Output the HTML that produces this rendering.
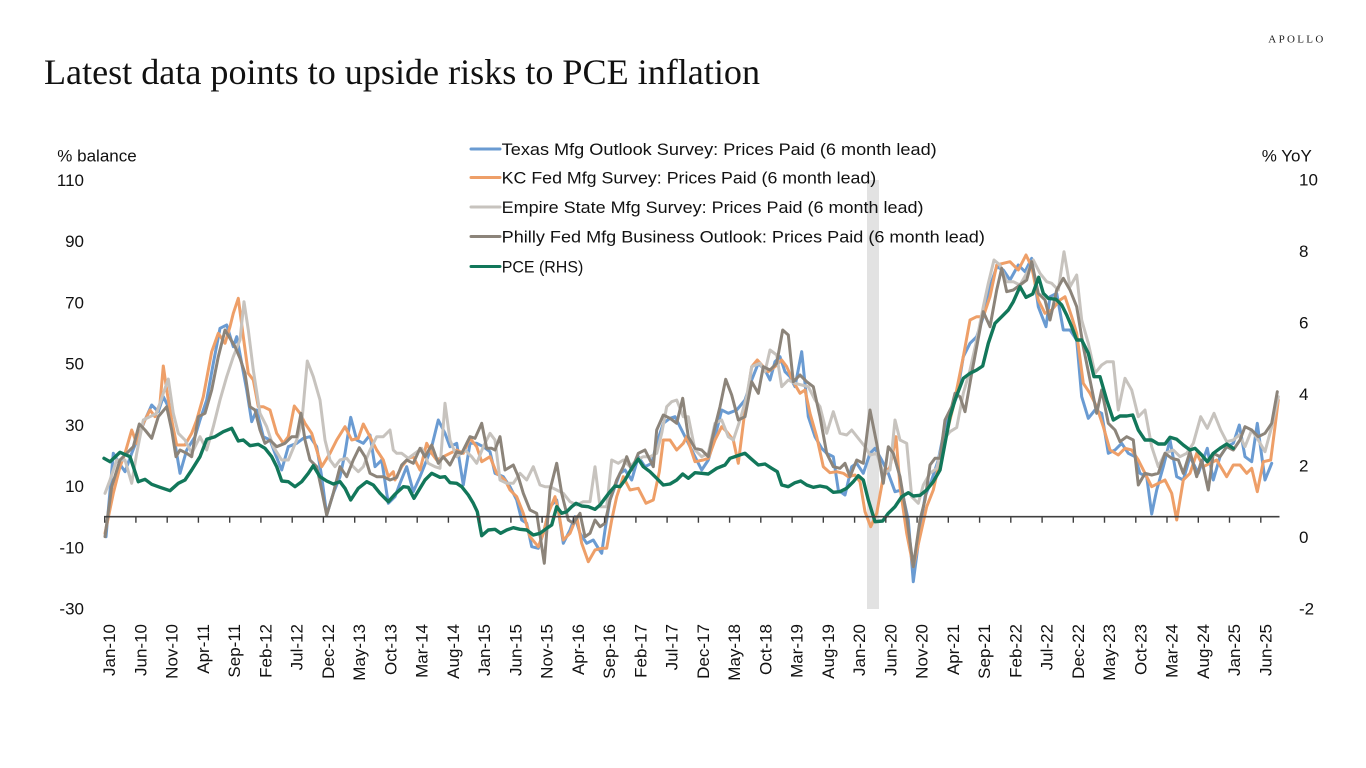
<!DOCTYPE html>
<html>
<head>
<meta charset="utf-8">
<style>
html,body{margin:0;padding:0;background:#fff;}
body{width:1366px;height:768px;overflow:hidden;}
svg{display:block;}
.ax{font-family:"Liberation Sans",sans-serif;font-size:17px;fill:#111;}
</style>
</head>
<body>
<svg width="1366" height="768" viewBox="0 0 1366 768" xmlns="http://www.w3.org/2000/svg">
<rect x="0" y="0" width="1366" height="768" fill="#fff"/>
<text x="1268.3" y="42.7" font-family="Liberation Serif, serif" font-size="11" textLength="55" lengthAdjust="spacing" fill="#222">APOLLO</text>
<text x="44" y="84" font-family="Liberation Serif, serif" font-size="36" textLength="716" lengthAdjust="spacingAndGlyphs" fill="#111">Latest data points to upside risks to PCE inflation</text>

<rect x="867" y="180" width="12" height="429" fill="#e2e2e2"/>

<text class="ax" x="57.3" y="161.5">% balance</text>
<text class="ax" x="1261.7" y="161.5">% YoY</text>

<g class="ax" text-anchor="end">
<text x="84" y="185.8">110</text>
<text x="84" y="247.1">90</text>
<text x="84" y="308.3">70</text>
<text x="84" y="369.6">50</text>
<text x="84" y="430.8">30</text>
<text x="84" y="492.1">10</text>
<text x="84" y="553.3">-10</text>
<text x="84" y="614.6">-30</text>
</g>
<g class="ax">
<text x="1299" y="185.5">10</text>
<text x="1299" y="257">8</text>
<text x="1299" y="328.5">6</text>
<text x="1299" y="400">4</text>
<text x="1299" y="471.5">2</text>
<text x="1299" y="543">0</text>
<text x="1299" y="614.5">-2</text>
</g>

<g fill="none" stroke-width="3" stroke-linejoin="round" stroke-linecap="round">
<polyline stroke="#6A9BD2" points="106,536.7 113.3,453.3 118.3,461.7 125,471.7 131.7,453.3 138.3,436.7 145,420 151.7,405 158.3,411.7 163.3,396.7 168.3,406.7 173.3,433.3 180,473.3 186.7,450 195,436.7 200,420 206.7,400 213.3,363.3 220,328.3 226.7,325 233.3,346.7 236.7,336.7 241.7,363.3 246.7,390 251.7,421.7 256.7,410 263.3,436.7 270,440 275,453.3 281.7,470 288.3,446.7 296.7,443.3 303.3,438.3 310,436.7 316.7,446.7 321.7,476.7 326.7,515 333.3,493.3 340,476.7 345,453.3 350.7,417.3 356.7,440 363.3,443.3 370,435 375,466.7 381.7,460 388.3,503.3 395,496.7 400,483.3 406.7,466.7 413.3,491.7 420,476.7 426.7,460 431.7,446.7 438.3,420 445,433.3 450,446.7 456.7,443.3 463.3,485 470,443.3 476.7,443.3 483.3,446.7 490,451.7 495,473.3 503.3,476.7 510,486.7 516.7,500 521.7,520 526.7,523.3 531.7,546.7 538.3,548.3 543.3,533.3 550,506.7 556.7,500 563.3,543.3 570,530 575,516.7 580,533.3 586.7,543.3 593.3,540 598.3,548.3 601.7,553.3 605,530 610,500 615,486.7 620,473.3 625,470 631.7,480 638.3,456.7 645,466.7 651.7,463.3 656.7,443.3 663.3,423.3 670,418.3 675,416.7 680,426.7 686.7,440 693.3,453.3 701.7,470 708.3,460 715,436.7 721.7,410 728.3,413.3 736.7,410 745,400 751.7,380 758.3,363.3 765,370 770,380 775,361.7 780,356.7 785,371.7 790,376.7 795,386.7 801.7,351.7 805,383.3 808.3,416.7 815,436.7 821.7,448.3 826.7,453.3 833.3,456.7 838.3,490 845,495 851.7,466.7 856.7,463.3 863.3,473.3 870,453.3 875,448.3 881.7,460 888.3,473.3 895,491.7 901.7,490 908.3,520 913.3,581.7 920,530 925,496.7 931.7,480 938.3,460 945,426.7 951.7,410 956.7,396.7 963.3,356.7 970,343.3 976.7,336.7 983.3,316.7 990,286.7 996.7,266.7 1003.3,270 1010,280 1018.3,265 1025,271.7 1031.7,258.3 1038.3,306.7 1046,326.7 1050,296.7 1056.7,293.3 1063.3,330 1070,330 1076.7,340 1081.7,396.7 1088.3,418.3 1095,410 1101.7,413.3 1108.3,453.3 1115,450 1121.7,443.3 1128.3,453.3 1135,456.7 1140,473.3 1146.7,476.7 1151.7,514 1156.7,490 1163.3,466.7 1170,440 1176.7,476.7 1183.3,480 1190,456.7 1198.3,473.3 1207.3,448.3 1213.3,480 1220,456.7 1226.7,446.7 1233.3,443.3 1239.3,425 1245,456.7 1251.7,461.7 1257.3,423.3 1265,480 1271.7,463.3"/>
<polyline stroke="#EE9F68" points="105,533.3 113.3,493.3 120,466.7 125,453.3 131.7,430 136.7,443.3 143.3,423.3 150,410 155,416.7 160,403.3 163.3,366 166.7,390 171.7,420 176.7,445 185,445 191.7,433.3 196.7,420 203.3,396.7 211.7,351.7 218.3,333.3 225,343.3 230,326.7 233.3,313.3 238.3,298.3 243.3,336.7 248.3,373.3 253.3,380 258.3,406.7 263.3,406.7 270,410 276.7,433.3 283.3,443.3 288.3,436.7 294.3,406 300,413.3 305,423.3 311.7,433.3 316.7,450 321.7,466.7 330,453.3 336.7,440 345,426.7 351.7,440 358.3,438.3 363.3,424 370,436.7 376.7,450 383.3,460 388.3,476.7 393.3,471.7 395,480 401.7,466.7 408.3,458.3 413.3,456.7 420,470 426.7,443.3 431.7,453.3 436.7,460 443.3,456.7 450,453.3 456.7,450 463.3,453.3 470,438.3 476.7,446.7 481.7,461.7 490,456.7 496.7,473.3 505,480 510,490 516.7,496.7 523.3,513.3 530,536.7 538.3,546.7 543.3,533.3 548.3,513.3 555,496.7 558.3,510 563.3,540 570,533.3 576.7,516.7 581.7,543.3 588.3,561.7 595,550 601.7,548.3 606.7,548.3 611.7,520 616.7,496.7 623.3,476.7 630,490 638.3,488.3 646,503.3 653.3,500 659.3,471.7 663.3,440 670,440 676.7,450 683.3,443.3 686.7,436.7 695,461.7 703.3,460 708.3,458.3 715,440 721.7,426.7 726.7,431.7 733.3,440 738.3,463.3 745,410 751.7,366.7 757.3,360 763.3,366.7 768.3,371.7 775,366.7 781.7,360 786.7,366.7 793.3,381.7 800,393.3 805,390 810,413.3 816.7,436.7 823.3,466.7 830,472.7 836.7,471.7 843.3,473.3 848.3,476.7 855,475 860,481.7 865,511.7 870.7,526.7 876.7,513.3 883.3,476.7 890,466.7 896,436.7 900,486.7 906.7,533.3 913.3,566.7 920,536.7 926.7,506.7 933.3,490 940,460 946.7,433.3 953.3,406.7 963.3,356.7 970,320 976.7,316.7 983.3,316.7 990,296.7 996.7,265 1003.3,263.3 1010,261.7 1018.3,270 1026,255 1031.7,266.7 1038.3,300 1045,313.3 1051.7,310 1060,300 1065,296.7 1071.7,316.7 1076.7,333.3 1083.3,383.3 1090,393.3 1096.7,406.7 1103.3,426.7 1110,450 1118.3,455 1125,448.3 1131.7,450 1138.3,460 1145,473.3 1151.7,486.7 1158.3,483.3 1165,480 1171.7,493.3 1176.7,520 1183.3,480 1190,473.3 1196.7,453.3 1203.3,466.7 1210,463.3 1216.7,460 1226.7,476.7 1233.3,465 1240,465 1246.7,473.3 1251.7,468.3 1257.3,491.7 1263.3,461.7 1270.7,460 1275,426.7 1278.3,400"/>
<polyline stroke="#C7C3BE" points="105,493.3 110,480 116.7,460 125,460 131.7,483.3 136.7,453.3 143.3,420 150,416.7 156.7,413.3 163.3,393.3 168.3,379 173.3,413.3 178.3,433.3 185,440 191.7,453.3 200,436.7 206.7,450 213.3,426.7 220,400 226.7,376.7 233.3,356.7 240,340 244,301.7 248.3,330 253.3,370 260,413.3 266.7,426.7 273.3,446.7 281.7,460 288.3,460 296.7,440 301.7,423.3 307.3,361 313.3,376.7 320,400 325,440 330,460 335,466.7 340,460 346.7,458.3 353.3,466.7 358.3,471.7 363.3,466.7 370,450 376.7,436.7 383.3,436.7 390,430 393.3,450 396.7,453.3 401.7,453.3 408.3,458.3 415,453.3 421.7,448.3 428.3,463.3 435,466.7 440,468.3 445,403.3 450,440 456.7,456.7 465,450 471.7,456.7 476.7,463.3 483.3,446.7 490,433.3 495,440 500,480 506.7,483.3 513.3,483.3 520,473.3 526.7,480 533.3,466.7 540,485 545,486.7 550,486.7 556.7,490 563.3,493.3 570,501.7 576.7,505 583.3,501.7 590,501.7 595,466.7 600,506.7 606.7,506.7 611.7,460 618.3,463.3 623.3,460 630,466.7 636.7,460 643.3,456.7 650,456.7 656.7,453.3 661.7,433.3 666.7,406.7 671.7,401.7 676.7,400 683.3,416.7 688.3,416.7 695,450 701.7,456.7 708.3,453.3 715,423.3 721.7,420 728.3,436.7 733.3,440 740,420 746.7,396.7 751.7,366.7 760,363.3 765,371.7 770,350 776.7,355 781.7,386.7 788.3,380 795,383.3 801.7,385 808.3,386.7 815,400 820,406.7 826.7,433.3 833.3,411.7 840,433.3 846.7,435 851.7,430 858.3,438.3 865,446.7 870,455 876.7,453.3 883.3,473.3 890,470 895,420 900,440 906.7,443.3 911.7,496.7 918.3,503.3 923.3,485 930,473.3 936.7,468.3 943.3,440 950,431.7 956.7,427.5 963.3,393.3 970,370 976.7,340 983.3,306.7 988.3,283.3 994,260 1000,265 1006.7,281.7 1013.3,281.7 1020,285 1026.7,273.3 1033.3,260 1040,273.3 1046.7,281.7 1051.7,283.3 1058.3,290 1064,251.7 1070,286.7 1076.7,275 1081.7,320 1088.3,343.3 1095,373.3 1101.7,365 1106.7,361.7 1113.3,361.7 1118.3,410 1125,378.3 1131.7,390 1138.3,416.7 1145,410 1151.7,446.7 1158.3,466.7 1165,453.3 1173.3,450 1180,456.7 1186.7,453.3 1193.3,443.3 1200.7,416.7 1207.3,428.3 1214,413.3 1220.7,430 1226.7,441.7 1233.3,440 1239.3,435 1245,446.7 1251.7,430 1258.3,440 1265,451.7 1271.7,426.7 1278.3,396.7"/>
<polyline stroke="#8C847A" points="105,536.7 111.7,486.7 120,460 126.7,453.3 133.3,446.7 139.3,424 145,430 151.7,438.3 158.3,416.7 166.7,406.7 171.7,430 176,456.7 180,450 186.7,453.3 191.7,456.7 198.3,416.7 205,413.3 211.7,390 218.3,356.7 225,330 230,338.3 235,346.7 240,358.3 245,373.3 250,406.7 255,410 260,430 265,443.3 270,440 276.7,446.7 285,443.3 291.7,436.7 296.7,436.7 301,413.3 305,440 310,460 316.7,466.7 321.7,490 326.7,515 333.3,493.3 340,466.7 346.7,476.7 353.3,460 359.3,447.7 365,456.7 370,473.3 376.7,476.7 383.3,476.7 390,480 396.7,477.5 401.7,465 406.7,460 413.3,463.3 420,448.3 425,456.7 431.7,445 438.3,463.3 443.3,456.7 450,465 456.7,451.7 461.7,453.3 470,436.7 475,438.3 481.7,423.3 486.7,448.3 491.7,448.3 495,450 500,436.7 505,470 513.3,465 518.3,476.7 523.3,493.3 530,510 536.7,513.3 544.3,563.3 550,490 556.7,463.3 561.7,493.3 568.3,520 573.3,523.3 580,513.3 585,536.7 590,533.3 595,520 600,526.7 605,523.3 610,500 616.7,480 623.3,466.7 626.7,456.7 631.7,470 638.3,453.3 645,450 653.3,466.7 656.7,430 663.3,415 670,418.3 676.7,423.3 682.7,398.3 688.3,436.7 695,448.3 701.7,450 708.3,456.7 715,426.7 720,406.7 725.7,379.3 731.7,395 738.3,420 745,416.7 751.7,381.7 758.3,393.3 763.3,366.7 770,370 776.7,363.3 782.7,330 788.3,335 793.3,381.7 800,375 806.7,381.7 813.3,386.7 820,416.7 826.7,453.3 833.3,466.7 840,468.3 845,463.3 850,476.7 856.7,460 863.3,463.3 870,410 876.7,443.3 883.3,483.3 888.3,446.7 893.3,453.3 900,476.7 906.7,516.7 913.3,566.7 920,520 925,500 930,465 935,458.3 940,458.3 945,420 951.7,406.7 955,393.3 960,396.7 965,411.7 971.7,373.3 976.7,346.7 983.3,311.7 990,326.7 996.7,290 1001.7,268.3 1006.7,291.7 1013.3,290 1020,285 1026.7,280 1031.7,261.7 1038.3,293.3 1045,300 1050,320 1056.7,290 1063.3,278.3 1070,290 1076.7,306.7 1083.3,346.7 1090,380 1096.7,413.3 1101.7,390 1108.3,423.3 1115,430 1120,441.7 1126.7,436.7 1133.3,440 1138.3,485 1145,473.3 1151.7,475 1158.3,473.3 1165,453.3 1171.7,458.3 1178.3,460 1183.3,473.3 1190,451.7 1196.7,476.7 1201.7,460 1208.3,490 1213.3,453.3 1220,456.7 1226.7,446.7 1233.3,450 1240,440 1245,426.7 1251.7,430 1258.3,436.7 1265,433.3 1271.7,423.3 1277.3,391.7"/>
<polyline stroke="#12775A" stroke-width="3.4" points="104,458.3 110,461.7 120,452.3 130,456.7 138.3,481.7 145,479.3 151.7,484.3 160,487.3 170,490.7 178.3,483.3 185,480 191.7,470 200,456.7 206.7,439.3 215,436.7 223.3,431.7 231.7,428.3 238.3,441 243.3,440 250,445.7 258.3,444.3 265,448.3 271.7,456.7 276.7,466.7 281.7,481 288.3,481.7 295,486.7 301.7,481.7 308.3,473.3 313.3,465.7 320,476.7 326.7,481 333.3,484 340,481.7 345,488.3 350.7,500 358.3,488.3 366.7,481.7 373.3,485 380,493.3 388.3,501.7 395,494.3 403.3,486.7 408.3,487.3 414,498.3 420,488.3 425,480 431.7,473.3 440,477.3 445,476.7 450,482.7 456.7,483.3 461.7,486.7 468.3,495 473.3,503.3 477.3,511.7 480,526.7 481.7,535.7 488.3,530 495,529.3 500.7,533.3 506.7,530 513.3,527.7 520,529.3 526.7,530 533.3,535 540,533.3 546.7,528.3 551.7,525 556.7,506.7 561.7,513.3 566.7,511.7 571.7,506.7 576,503.3 581.7,506 588.3,506.7 595,509.3 600,505 605,498.3 610,491.7 615,486 620,486.7 625,480 631.7,468.3 638.3,459 643.3,466.7 650,471.7 656.7,478.3 663.3,485 670,484 676.7,480 682.7,474 688.3,478.3 695,472.7 701.7,473.3 708.3,474 716.7,468.3 725,465 730,458.3 736.7,456 745,453.3 751.7,459.3 758.3,465 765,464 771.7,468.3 777.3,471.7 781.7,485 788.3,486.7 795,482.7 800.7,481 806.7,485 813.3,487.3 820,486 826.7,487.3 833.3,492.3 840,491.7 846.7,488.3 853.3,481.7 858.3,475.7 863.3,480 868.3,500 875,521.7 882.7,521 888.3,513.3 895,506.7 901.7,496.7 908.3,492.7 913.3,496 920,495.3 926.7,490 933.3,481.7 940,470 945,443.3 950,416.7 955,400 963.3,378.3 970,373.3 976.7,370 982.7,366 988.3,343.3 995,323.3 1001.7,316.7 1008.3,310 1013.3,301.7 1020,286.7 1026,297.3 1032.7,294 1038.7,277.3 1043.3,293.3 1048.3,298.3 1056,299.3 1061.7,305 1066.7,315 1071.7,326.7 1076.7,340 1081.7,340 1088.3,353.3 1094,376.7 1100,376.7 1106.7,400 1113.3,420 1120,416 1126.7,416 1132.7,415 1138.3,430 1145,440 1151.7,440 1158.3,444 1165,444 1170,437.3 1176.7,439.3 1183.3,445 1190,450 1195,448.3 1201.7,455 1207.3,461.7 1213.3,453.3 1220,448.3 1226.7,444 1233.3,448.3"/>
</g>

<line x1="104" y1="516.7" x2="1279.5" y2="516.7" stroke="#404040" stroke-width="1.6"/>
<path stroke="#404040" stroke-width="1.4" fill="none" d="M104.7 516.7v6 M135.9 516.7v6 M167.2 516.7v6 M198.4 516.7v6 M229.7 516.7v6 M260.9 516.7v6 M292.2 516.7v6 M323.4 516.7v6 M354.7 516.7v6 M385.9 516.7v6 M417.2 516.7v6 M448.4 516.7v6 M479.6 516.7v6 M510.9 516.7v6 M542.1 516.7v6 M573.4 516.7v6 M604.6 516.7v6 M635.9 516.7v6 M667.1 516.7v6 M698.4 516.7v6 M729.6 516.7v6 M760.8 516.7v6 M792.1 516.7v6 M823.3 516.7v6 M854.6 516.7v6 M885.8 516.7v6 M917.1 516.7v6 M948.3 516.7v6 M979.6 516.7v6 M1010.8 516.7v6 M1042.1 516.7v6 M1073.3 516.7v6 M1104.5 516.7v6 M1135.8 516.7v6 M1167 516.7v6 M1198.3 516.7v6 M1229.5 516.7v6 M1260.8 516.7v6"/>

<g class="ax" text-anchor="end">
<text transform="translate(115.2,624) rotate(-90)">Jan-10</text>
<text transform="translate(146.4,624) rotate(-90)">Jun-10</text>
<text transform="translate(177.7,624) rotate(-90)">Nov-10</text>
<text transform="translate(208.9,624) rotate(-90)">Apr-11</text>
<text transform="translate(240.2,624) rotate(-90)">Sep-11</text>
<text transform="translate(271.4,624) rotate(-90)">Feb-12</text>
<text transform="translate(302.7,624) rotate(-90)">Jul-12</text>
<text transform="translate(333.9,624) rotate(-90)">Dec-12</text>
<text transform="translate(365.2,624) rotate(-90)">May-13</text>
<text transform="translate(396.4,624) rotate(-90)">Oct-13</text>
<text transform="translate(427.7,624) rotate(-90)">Mar-14</text>
<text transform="translate(458.9,624) rotate(-90)">Aug-14</text>
<text transform="translate(490.1,624) rotate(-90)">Jan-15</text>
<text transform="translate(521.4,624) rotate(-90)">Jun-15</text>
<text transform="translate(552.6,624) rotate(-90)">Nov-15</text>
<text transform="translate(583.9,624) rotate(-90)">Apr-16</text>
<text transform="translate(615.1,624) rotate(-90)">Sep-16</text>
<text transform="translate(646.4,624) rotate(-90)">Feb-17</text>
<text transform="translate(677.6,624) rotate(-90)">Jul-17</text>
<text transform="translate(708.9,624) rotate(-90)">Dec-17</text>
<text transform="translate(740.1,624) rotate(-90)">May-18</text>
<text transform="translate(771.3,624) rotate(-90)">Oct-18</text>
<text transform="translate(802.6,624) rotate(-90)">Mar-19</text>
<text transform="translate(833.8,624) rotate(-90)">Aug-19</text>
<text transform="translate(865.1,624) rotate(-90)">Jan-20</text>
<text transform="translate(896.3,624) rotate(-90)">Jun-20</text>
<text transform="translate(927.6,624) rotate(-90)">Nov-20</text>
<text transform="translate(958.8,624) rotate(-90)">Apr-21</text>
<text transform="translate(990.1,624) rotate(-90)">Sep-21</text>
<text transform="translate(1021.3,624) rotate(-90)">Feb-22</text>
<text transform="translate(1052.6,624) rotate(-90)">Jul-22</text>
<text transform="translate(1083.8,624) rotate(-90)">Dec-22</text>
<text transform="translate(1115,624) rotate(-90)">May-23</text>
<text transform="translate(1146.3,624) rotate(-90)">Oct-23</text>
<text transform="translate(1177.5,624) rotate(-90)">Mar-24</text>
<text transform="translate(1208.8,624) rotate(-90)">Aug-24</text>
<text transform="translate(1240,624) rotate(-90)">Jan-25</text>
<text transform="translate(1271.3,624) rotate(-90)">Jun-25</text>
</g>

<g stroke-width="3" stroke-linecap="round">
<line x1="471" y1="149" x2="500" y2="149" stroke="#6A9BD2"/>
<line x1="471" y1="177.5" x2="500" y2="177.5" stroke="#EE9F68"/>
<line x1="471" y1="207" x2="500" y2="207" stroke="#C7C3BE"/>
<line x1="471" y1="236.5" x2="500" y2="236.5" stroke="#8C847A"/>
<line x1="471" y1="266.5" x2="500" y2="266.5" stroke="#12775A"/>
</g>
<g class="ax">
<text x="501.7" y="155" textLength="435" lengthAdjust="spacingAndGlyphs">Texas Mfg Outlook Survey: Prices Paid (6 month lead)</text>
<text x="501.7" y="183.5" textLength="374.5" lengthAdjust="spacingAndGlyphs">KC Fed Mfg Survey: Prices Paid (6 month lead)</text>
<text x="501.7" y="213" textLength="421.8" lengthAdjust="spacingAndGlyphs">Empire State Mfg Survey: Prices Paid (6 month lead)</text>
<text x="501.7" y="242.5" textLength="483.2" lengthAdjust="spacingAndGlyphs">Philly Fed Mfg Business Outlook: Prices Paid (6 month lead)</text>
<text x="501.7" y="272.5" textLength="81.6" lengthAdjust="spacingAndGlyphs">PCE (RHS)</text>
</g>
</svg>
</body>
</html>
